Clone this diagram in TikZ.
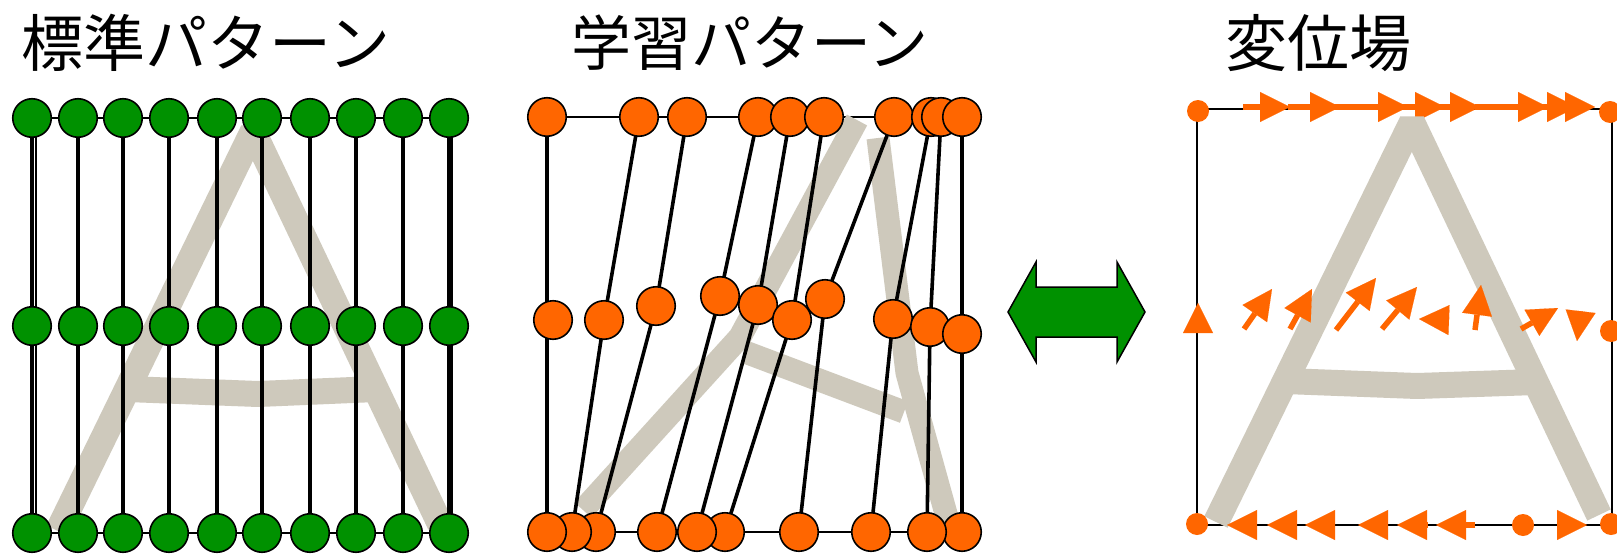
\documentclass[tikz,border=0pt]{standalone}
\usepackage{fontspec}
\newfontfamily\cjk{Noto Sans CJK JP}
\usetikzlibrary{arrows.meta}
\definecolor{gfill}{RGB}{0,145,0}
\definecolor{ofill}{RGB}{255,102,0}
\definecolor{agray}{RGB}{206,201,188}
\begin{document}
\begin{tikzpicture}[x=1pt,y=-1pt,
  gdot/.style={circle, draw=black, line width=1.6pt, fill=gfill, minimum size=38.5pt, inner sep=0pt},
  odot/.style={circle, draw=black, line width=1.6pt, fill=ofill, minimum size=38.5pt, inner sep=0pt},
  sdot/.style={circle, fill=ofill, minimum size=22pt, inner sep=0pt},
  link/.style={draw=black, line width=3.6pt},
  frame/.style={draw=black, line width=1.6pt},
  letterA/.style={draw=agray, line width=26pt, line join=bevel},
  vec/.style={draw=ofill, line width=5.5pt, -{Triangle[length=30pt,width=30pt,line width=0.1pt]}},
  title/.style={font=\cjk\fontsize{62pt}{72pt}\selectfont, inner sep=0pt},
  dbl/.style={draw=black, line width=1.5pt, fill=gfill, line join=miter}]
\fill[white] (0,0) rectangle (1617,554);
\useasboundingbox (0,0) rectangle (1617,554);

% titles
\node[title] (t1) at (206,43) {標準パターン};
\node[title, font=\cjk\fontsize{60pt}{72pt}\selectfont] (t2) at (750,43) {学習パターン};
\node[title] (t3) at (1318,43) {変位場};

% ---------- standard pattern ----------
\draw[frame] (36,118) rectangle (452,533);
\draw[letterA] (58,531) -- (253,131) -- (440,524);
\draw[letterA] (127,389) -- (258,394) -- (376,389);
\foreach \x [count=\i] in {32,78,123,169,217,262,310,356,403,449} {
  \coordinate (St\i) at (\x,118);
  \coordinate (Sm\i) at (\x,326);
  \coordinate (Sb\i) at (\x,533);
}
\foreach \i in {1,...,10} \draw[link] (St\i) -- (Sm\i) -- (Sb\i);
\foreach \i in {1,...,10} {
  \node[gdot] (GT\i) at (St\i) {};
  \node[gdot] (GM\i) at (Sm\i) {};
  \node[gdot] (GB\i) at (Sb\i) {};
}

% ---------- learned pattern ----------
\draw[frame] (547,117) rectangle (962,532);
\draw[letterA, line width=23pt] (583,510) -- (740,337) -- (857,120);
\draw[letterA, line width=23pt] (745,352) -- (904,412);
\draw[letterA, line width=23pt] (878,138) -- (907,373) -- (948,521);
\foreach \x [count=\i] in {547,639,687,758,790,824,894,931,941,962}
  \coordinate (Lt\i) at (\x,117);
\foreach \p [count=\i] in {{553,320},{604,320},{656,306},{720,296},{758,305},{792,320},{825,299},{893,319},{930,327},{962,334}}
  \coordinate (Lm\i) at (\p);
\foreach \x [count=\i] in {547,572,596,657,697,725,799,871,927,962}
  \coordinate (Lb\i) at (\x,532);
\draw[link] (Lt1) -- (Lb1);
\foreach \i in {2,...,10} \draw[link] (Lt\i) -- (Lm\i) -- (Lb\i);
\foreach \i in {1,...,10} {
  \node[odot] (OT\i) at (Lt\i) {};
  \node[odot] (OM\i) at (Lm\i) {};
}
\foreach \i in {10,9,...,1} \node[odot] (OB\i) at (Lb\i) {};

% ---------- double arrow ----------
\draw[dbl] (1008,312) -- (1036,262) -- (1036,287) -- (1117,287) -- (1117,262)
  -- (1145,312) -- (1117,362) -- (1117,337) -- (1036,337) -- (1036,362) -- cycle;

% ---------- displacement field ----------
\draw[frame] (1197,109) rectangle (1612,525);
\foreach \a/\b in {1243/1290,1288/1340,1334/1408,1382/1445,1427/1480,1475/1548,1521/1577,1568/1595}
  \draw[vec] (\a,107) -- (\b,107);
\draw[letterA] (1216,522) -- (1412,122) -- (1599,515);
\draw[letterA] (1285,381) -- (1417,386) -- (1536,382);
\foreach \s/\e in {{1198,330}/{1198,303},{1244,329}/{1272,289},{1290,329}/{1312,289},
  {1336,330}/{1376,278},{1382,329}/{1417,287},{1447,320}/{1419,319},
  {1475,330}/{1481,285},{1521,329}/{1558,308},{1580,316}/{1577,341}}
  \draw[vec] (\s) -- (\e);
\foreach \a/\b in {1243/1227,1288/1267,1334/1305,1382/1358,1427/1397,1475/1436,1568/1587}
  \draw[vec] (\a,525) -- (\b,525);
\foreach \p [count=\i] in {{1198,111},{1610,112},{1611,331},{1197,524},{1523,525},{1611,524}}
  \node[sdot] (D\i) at (\p) {};
\end{tikzpicture}
\end{document}
